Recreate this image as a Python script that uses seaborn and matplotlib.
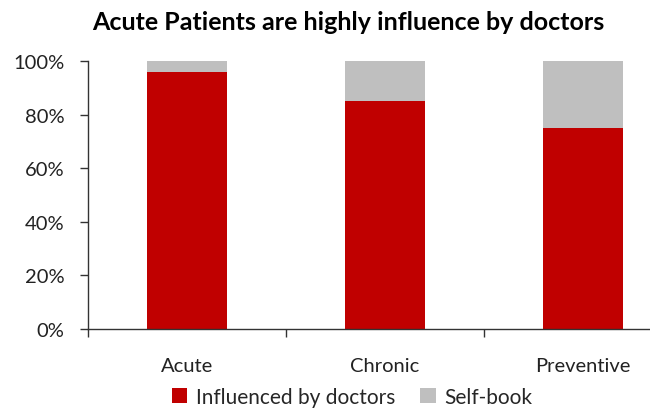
import matplotlib
matplotlib.use("Agg")
import matplotlib.pyplot as plt
import seaborn as sns
import pandas as pd
from matplotlib.patches import Patch
from matplotlib.ticker import PercentFormatter

categories = ["Acute", "Chronic", "Preventive"]
influenced = [96, 85, 75]
self_book = [4, 15, 25]
series_names = ["Influenced by doctors", "Self-book"]
colors = ["#C00000", "#BFBFBF"]

sns.set_style("white", {"xtick.bottom": True, "ytick.left": True})
plt.rcParams['font.family'] = ['Lato', 'DejaVu Sans']

df = pd.DataFrame({"cat": categories, "inf": influenced,
                   "tot": [a + b for a, b in zip(influenced, self_book)]})

fig = plt.figure(figsize=(6.5, 4.1), dpi=100)
ax = fig.add_axes([88/650, 1-330/410, 594/650, 268/410])
sns.barplot(data=df, x="cat", y="tot", color=colors[1], width=0.4, ax=ax,
            saturation=1, linewidth=0)
sns.barplot(data=df, x="cat", y="inf", color=colors[0], width=0.4, ax=ax,
            saturation=1, linewidth=0)

ax.set_xlim(-0.5, 2.5)
ax.set_ylim(0, 100)
ax.set_yticks([0, 20, 40, 60, 80, 100])
ax.yaxis.set_major_formatter(PercentFormatter(decimals=0))
ax.set_xticks([0, 1, 2])
ax.set_xticks([-0.5, 0.5, 1.5, 2.5], minor=True)
ax.tick_params(axis='x', which='major', bottom=False, length=0, pad=20, labelsize=14.5)
ax.tick_params(axis='x', which='minor', bottom=True, length=6, width=1, color='#333333', direction='out')
ax.tick_params(axis='y', left=True, length=6, width=1, color='#333333', direction='out',
               labelsize=14.5, pad=11)
ax.set_xlabel("")
ax.set_ylabel("")
for s in ["top", "right"]:
    ax.spines[s].set_visible(False)
for s in ["left", "bottom"]:
    ax.spines[s].set_color('#333333')
    ax.spines[s].set_linewidth(1)
for lbl in ax.get_xticklabels() + ax.get_yticklabels():
    lbl.set_color('#222222')

fig.text(348/650, 1-22/410, "Acute Patients are highly influence by doctors",
         ha='center', va='center', fontsize=18, fontweight='bold', color='black')

handles = [Patch(facecolor=c, edgecolor='none') for c in colors]
fig.legend(handles, series_names, loc='center', bbox_to_anchor=(352/650, 1-398/410),
           ncol=2, frameon=False, fontsize=15, handlelength=0.75, handleheight=0.75,
           handletextpad=0.4, columnspacing=1.2)

fig.savefig("out.png", dpi=100)
